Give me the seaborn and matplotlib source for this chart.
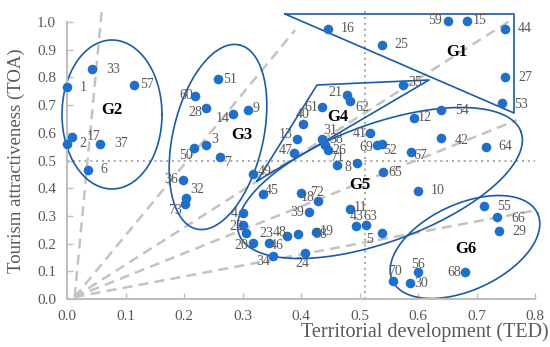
import numpy as np
import pandas as pd
import matplotlib
matplotlib.use("Agg")
import matplotlib.pyplot as plt
import seaborn as sns

# ---------------- data ----------------
ids = [1, 2, 6, 17, 33, 37, 57,
       60, 51, 28, 14, 9, 3, 50, 7, 36, 32, 73, 49,
       21, 62, 61, 40, 13, 47, 31, 38, 26, 71, 8, 35,
       16, 25, 59, 15, 44, 27, 53,
       41, 69, 52, 12, 54, 42, 64, 67, 65, 10, 11, 43, 63, 5, 72, 18, 39, 45,
       4, 22, 23, 20, 46, 48, 58, 19, 34, 24,
       55, 66, 29, 68, 56, 70, 30]
ted = [0.000, 0.000, 0.036, 0.009, 0.043, 0.056, 0.115,
       0.219, 0.258, 0.238, 0.284, 0.309, 0.238, 0.217, 0.262, 0.198, 0.203, 0.202, 0.318,
       0.479, 0.484, 0.436, 0.403, 0.393, 0.388, 0.436, 0.441, 0.446, 0.462, 0.496, 0.574,
       0.446, 0.538, 0.651, 0.684, 0.749, 0.749, 0.744,
       0.518, 0.530, 0.538, 0.593, 0.639, 0.639, 0.716, 0.588, 0.540, 0.600, 0.484, 0.494,
       0.511, 0.538, 0.400, 0.429, 0.414, 0.335,
       0.301, 0.301, 0.306, 0.318, 0.345, 0.376, 0.395, 0.426, 0.352, 0.407,
       0.713, 0.735, 0.738, 0.680, 0.600, 0.557, 0.586]
toa = [0.765, 0.560, 0.466, 0.585, 0.830, 0.560, 0.773,
       0.733, 0.794, 0.690, 0.668, 0.682, 0.556, 0.545, 0.513, 0.430, 0.365, 0.343, 0.451,
       0.736, 0.715, 0.693, 0.632, 0.578, 0.527, 0.578, 0.556, 0.538, 0.484, 0.491, 0.773,
       0.975, 0.917, 1.004, 1.004, 0.975, 0.801, 0.708,
       0.599, 0.556, 0.560, 0.653, 0.682, 0.581, 0.549, 0.531, 0.458, 0.390, 0.325, 0.264,
       0.267, 0.238, 0.383, 0.354, 0.314, 0.379,
       0.310, 0.267, 0.238, 0.202, 0.202, 0.227, 0.235, 0.242, 0.155, 0.166,
       0.336, 0.296, 0.245, 0.097, 0.097, 0.065, 0.058]

x_ticks = [0.0, 0.1, 0.2, 0.3, 0.4, 0.5, 0.6, 0.7, 0.8]
y_ticks = [0.0, 0.1, 0.2, 0.3, 0.4, 0.5, 0.6, 0.7, 0.8, 0.9, 1.0]
group_names = ["G1", "G2", "G3", "G4", "G5", "G6"]

# ---------------- layout / style helpers ----------------
# label offsets (pixels, x right / y down) of each point number relative to its dot
label_off = {
    1: (16, 0), 2: (16, 0), 6: (16, 0), 17: (21, 0), 33: (21, 0), 37: (21, 0), 57: (13, 0),
    60: (-9, 0), 51: (12, 0), 28: (-11, 5), 14: (-10, 5), 9: (8, -2), 3: (8, -5),
    50: (-8, 7), 7: (7, 6), 36: (-12, 0), 32: (11, -8), 73: (-10, 7), 49: (12, -3),
    21: (-12, -3), 62: (12, 7), 61: (-11, 0), 40: (0, -9), 13: (-11, -4), 47: (-8, -3),
    31: (8, -8), 38: (11, -5), 26: (11, 1), 71: (0, -7), 8: (-9, 5), 35: (12, -2),
    16: (20, 0), 25: (20, 0), 59: (-13, 0), 15: (13, 0), 44: (20, 0), 27: (20, 0), 53: (19, 2),
    41: (-10, 0), 69: (-11, 3), 52: (8, 7), 12: (11, -1), 54: (21, 0), 42: (21, 2),
    64: (19, 0), 67: (9, 4), 65: (12, 0), 10: (20, 0), 11: (10, -1), 43: (1, -9),
    63: (4, -9), 5: (-12, 6), 72: (16, 0), 18: (-10, -3), 39: (-12, 0), 45: (9, -4),
    4: (-9, 0), 22: (-7, 1), 23: (20, 0), 20: (-12, 2), 46: (8, 2), 48: (-7, -4),
    58: (22, 1), 19: (11, 0), 34: (-10, 5), 24: (-3, 10),
    55: (20, 1), 66: (21, 1), 29: (21, 0), 68: (-11, 0), 56: (0, -8), 70: (2, -9), 30: (11, 1),
}

# pixel frame of the reference (used only for the hand-drawn group outlines)
X0, Y0, SX, SY = 67, 299, 585, 277


def to_data(px, py):
    return (np.asarray(px) - X0) / SX, (Y0 - np.asarray(py)) / SY


def ellipse(cx, cy, a, b, ang):
    t = np.linspace(0, 2 * np.pi, 300)
    th = np.deg2rad(ang)
    x = cx + a * np.cos(t) * np.cos(th) - b * np.sin(t) * np.sin(th)
    y = cy - (a * np.cos(t) * np.sin(th) + b * np.sin(t) * np.cos(th))
    return to_data(x, y)


def polygon(pts):
    pts = list(pts) + [pts[0]]
    return to_data([p[0] for p in pts], [p[1] for p in pts])


outlines = {
    "G1": polygon([(285, 14), (514, 14), (514, 113)]),
    "G2": ellipse(112, 114.5, 50, 74.5, 0),
    "G3": ellipse(218, 137, 94.5, 45, 76.8),
    "G4": polygon([(257, 181), (317, 85), (429, 80)]),
    "G5": ellipse(380, 183, 150, 59, 20),
    "G6": ellipse(465, 247, 80, 43, 24.8),
}
group_label_px = {"G1": (457, 52), "G2": (112, 110), "G3": (242, 135),
                  "G4": (338, 117), "G5": (360, 185), "G6": (466, 249)}

ray_origin = (0.013, 0.007)
ray_ends = [(0.060, 1.054), (0.390, 0.971), (0.762, 1.011), (0.769, 0.646), (0.803, 0.321)]

# ---------------- plot ----------------
sns.set_theme(style="white")
plt.rcParams['font.family'] = ['Liberation Serif', 'DejaVu Serif']

fig = plt.figure(figsize=(5.5, 3.47), dpi=100)
ax = fig.add_axes([X0 / 550, 1 - Y0 / 347, 468 / 550, SY / 347])

GRAY_TXT = "#595959"
BLUE = "#1f6fcb"
NAVY = "#1d5aa6"

# reference lines
ax.axhline(0.5, xmin=0, xmax=1.0, color="#a6a6a6", lw=1.4, ls=(0, (1, 2)), zorder=1)
ax.plot([0.51, 0.51], [0, 1.04], color="#a6a6a6", lw=1.4, ls=(0, (1, 2)), zorder=1, clip_on=False)

for ex, ey in ray_ends:
    ax.plot([ray_origin[0], ex], [ray_origin[1], ey], color="#c3c3c3", lw=1.8,
            ls=(0, (4, 2.5)), zorder=1, clip_on=False)

# group outlines
for g in group_names:
    gx, gy = outlines[g]
    ax.plot(gx, gy, color=NAVY, lw=1.2, zorder=2, clip_on=False)

df = pd.DataFrame({"id": ids, "TED": ted, "TOA": toa})
sns.scatterplot(data=df, x="TED", y="TOA", ax=ax, color=BLUE, s=48, linewidth=0,
                zorder=3, clip_on=False, legend=False)

for i, x, y in zip(ids, ted, toa):
    dx, dy = label_off.get(i, (16, 0))
    ax.annotate(str(i), (x, y), xytext=(dx * 0.72, -dy * 0.72), textcoords="offset points",
                ha="center", va="center", fontsize=10, color=GRAY_TXT, zorder=4,
                annotation_clip=False)

for g in group_names:
    gx, gy = to_data(*group_label_px[g])
    ax.text(gx, gy, g, ha="center", va="center", fontsize=12, fontweight="bold",
            color="black", zorder=5)

ax.set_xlim(0, 0.8)
ax.set_ylim(0, 1.0)
ax.set_xticks(x_ticks)
ax.set_yticks(y_ticks)
ax.set_xticklabels([f"{v:.1f}" for v in x_ticks])
ax.set_yticklabels([f"{v:.1f}" for v in y_ticks])
ax.tick_params(direction="in", length=4, width=1, color="#bfbfbf", labelcolor=GRAY_TXT,
               labelsize=11, pad=8, bottom=True, left=True)
for s in ["top", "right"]:
    ax.spines[s].set_visible(False)
for s in ["left", "bottom"]:
    ax.spines[s].set_color("#bfbfbf")
    ax.spines[s].set_linewidth(1.5)
ax.grid(False)

ax.set_ylabel("Tourism attractiveness (TOA)", fontsize=13.5, color=GRAY_TXT,
              va="center", ha="center")
ax.yaxis.set_label_coords((16 - X0) / 468, 0.5)
ax.set_xlabel("Territorial development (TED)", fontsize=14.5, color=GRAY_TXT,
              ha="right", va="center")
ax.xaxis.set_label_coords((549 - X0) / 468, (Y0 - 332) / SY)

fig.savefig("out.png", dpi=100)
